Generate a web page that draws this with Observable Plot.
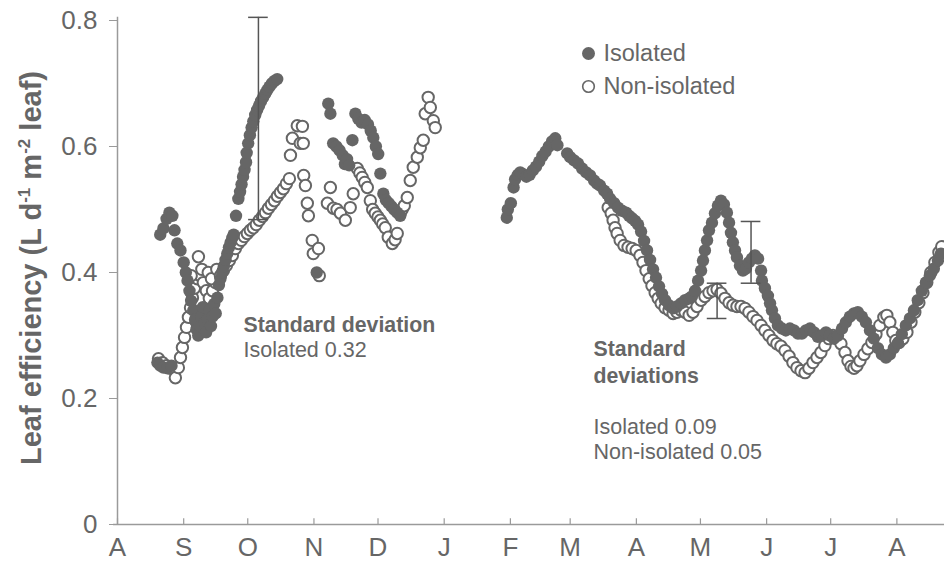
<!DOCTYPE html>
<html><head><meta charset="utf-8">
<script src="https://cdn.jsdelivr.net/npm/d3@7"></script>
<script src="https://cdn.jsdelivr.net/npm/@observablehq/plot@0.6"></script>
<style>body{margin:0;background:#fff}</style>
</head><body><div id="chart"></div>
<script>
// Month ticks (day offsets from 1 August)
const monthLabels = ["A","S","O","N","D","J","F","M","A","M","J","J","A"];
const monthStarts = [0,31,61,92,122,153,184,212,243,273,304,334,365];
const yTicks = [0, 0.2, 0.4, 0.6, 0.8];
const yTickLabels = ["0", "0.2", "0.4", "0.6", "0.8"];
const seriesNames = ["Isolated", "Non-isolated"];

// Isolated: [day, leaf efficiency]
const isolatedPoints = [
  [18.7,0.257],[20,0.252],[21.5,0.249],[23.4,0.248],[25.3,0.252],
  [20,0.46],[21.5,0.47],[23,0.485],[24.3,0.495],[25.7,0.49],[26.7,0.467],[28,0.446],[29.5,0.435],[31,0.416],[32,0.40],[32.8,0.387],[33.7,0.371],
  [34.5,0.355],[35.5,0.34],[36.3,0.325],[37,0.31],[37.8,0.30],[38.6,0.315],[39.3,0.33],[40,0.345],[40.8,0.32],[41.5,0.305],[42.2,0.325],[43,0.34],[43.8,0.315],[44.5,0.33],[45.3,0.35],[46,0.335],[46.8,0.36],[47.5,0.38],
  [48.2,0.39],[49,0.40],[49.8,0.41],[50.6,0.42],[51.4,0.43],[52.2,0.44],[53,0.448],[53.8,0.455],[54.4,0.46],[55.5,0.49],
  [56.6,0.517],[57.4,0.528],[58.1,0.54],[58.8,0.552],[59.5,0.563],[60.2,0.575],[60.5,0.59],[61.2,0.605],[62,0.618],[62.8,0.63],[63.6,0.64],[64.5,0.65],[65.4,0.658],[66.3,0.665],[67.2,0.672],[68.2,0.678],[69.2,0.684],[70.2,0.69],[71.2,0.695],[72.3,0.70],[73.5,0.704],[74.8,0.707],
  [93.3,0.40],[98.7,0.668],[99.7,0.652],[101,0.605],[102.5,0.60],[104,0.594],[105.5,0.586],[106.5,0.572],[107.5,0.58],[108.5,0.57],[110,0.61],[111.4,0.652],[112.8,0.644],[114.3,0.638],[115.8,0.642],[117.3,0.635],[118.6,0.625],[119.8,0.614],[121,0.60],[122.1,0.588],[123.1,0.557],[124.5,0.525],[125.7,0.515],[127,0.51],[128.3,0.505],[129.6,0.50],[131,0.495],[132.4,0.49],
  [182.3,0.487],[182.8,0.50],[184.2,0.51],[185.5,0.535],[186.2,0.548],[187.5,0.555],[188.6,0.559],[190,0.556],[191.5,0.552],[193,0.555],[194.5,0.562],[196,0.568],[197.5,0.576],[199,0.585],[200.5,0.592],[202,0.60],[203.5,0.608],[205,0.613],[206,0.602],
  [210.6,0.589],[212,0.583],[213.8,0.578],[215.7,0.573],[217.6,0.565],[219.5,0.559],[221.3,0.554],[223.2,0.546],[224.6,0.541],[226,0.538],[227.9,0.53],[229.3,0.525],[230.7,0.517],[232.6,0.51],[234.4,0.503],[236.3,0.498],[238.2,0.495],[239.6,0.49],[241,0.486],[242.4,0.482],[243.8,0.476],[245.2,0.465],[246.6,0.45],[248,0.435],[249.4,0.42],[250.8,0.405],[252.2,0.392],[253.6,0.378],[255,0.366],[256.4,0.356],[258.3,0.348],[260.2,0.343],[262,0.346],[263.9,0.351],[265.8,0.356],[267.7,0.359],[269,0.362],
  [270.5,0.371],[271.9,0.387],[273.3,0.403],[274.2,0.419],[275.1,0.435],[276.1,0.451],[277,0.467],[278.4,0.479],[279.8,0.494],[281.2,0.506],[282.6,0.514],[284,0.508],[285.4,0.495],[286.4,0.479],[287.3,0.463],[288.2,0.448],[289.2,0.435],[290.1,0.424],[291.5,0.411],[292.9,0.403],[294.3,0.406],[295.7,0.416],[297.1,0.422],[298.5,0.427],[300,0.422],[301.4,0.403],[301.8,0.387],[303.2,0.375],[304.6,0.363],[305.6,0.351],[306.5,0.34],[307.9,0.327],[309.3,0.316],
  [311.2,0.311],[313,0.308],[314.9,0.311],[316.8,0.308],[318.7,0.303],[320.5,0.303],[322.4,0.308],[324.3,0.311],[326.2,0.305],[328,0.298],[329.9,0.30],[331.8,0.305],[333.6,0.30],[335.5,0.295],[337.4,0.30],[339.3,0.311],[341.1,0.321],[343,0.33],[344.9,0.335],[346.7,0.337],[348.6,0.33],[350.5,0.321],[352.4,0.308],[354.2,0.295],[356.1,0.28],[358,0.27],[359.9,0.265],[361.7,0.27],[363.6,0.28],[365.5,0.288],
  [367.3,0.302],[369.2,0.316],[371.1,0.327],[373,0.34],[374.8,0.356],[376.7,0.371],[378.6,0.384],[380.4,0.395],[382.3,0.406],[384.2,0.419],[385.6,0.43]
];

// Non-isolated: [day, leaf efficiency]
const nonIsolatedPoints = [
  [19.2,0.263],[21,0.257],[22.9,0.252],[24.8,0.248],[27.1,0.233],[28.5,0.249],[29.5,0.265],[30.4,0.281],[31.4,0.297],[32.3,0.313],[33.2,0.329],[34.2,0.344],[35.1,0.36],[36,0.375],[37.4,0.39],[37.9,0.425],[38.8,0.395],[40.2,0.384],[41.6,0.371],[43,0.359],[44.5,0.371],[45.9,0.384],[47.3,0.395],
  [34.5,0.395],[39.5,0.405],[42.5,0.40],[44,0.39],[46.5,0.405],
  [48.2,0.395],[49.6,0.403],[51,0.411],[52.4,0.419],[53.8,0.427],[55.2,0.438],[56.6,0.446],[58,0.451],[59.4,0.457],[60.8,0.462],[62.2,0.467],[63.6,0.471],[65,0.476],[66.4,0.483],[67.9,0.489],[69.3,0.495],[70.7,0.502],[72.1,0.508],[73.5,0.514],[74.9,0.521],[76.3,0.527],[77.7,0.533],[79.1,0.541],[80.5,0.549],
  [81,0.586],[81.9,0.613],[84.2,0.633],[86.6,0.632],[85.6,0.605],[87,0.605],[87.2,0.554],[88,0.538],[88.9,0.51],[89.4,0.49],[91.2,0.451],[91.7,0.43],[94.1,0.438],[94.5,0.395],
  [98.3,0.51],[99.7,0.535],[101.1,0.502],[102.8,0.50],[104.4,0.494],[106.7,0.483],[109,0.503],[110.4,0.525],[112.3,0.565],[113.5,0.558],[114.6,0.551],[115.8,0.543],[117,0.535],[118.4,0.514],[119.5,0.50],[120.7,0.494],[122,0.488],[123.1,0.483],[124.2,0.477],[125.4,0.471],[126.8,0.456],[128.7,0.446],[130,0.452],[131,0.462],[132.4,0.494],[133.3,0.50],[134.3,0.506],[135.7,0.519],[137.1,0.546],[138.5,0.567],[140.4,0.583],[141.8,0.598],[143.2,0.61],[144.1,0.652],[145.5,0.678],[146.5,0.662],[147.9,0.641],[148.8,0.63],
  [229.8,0.503],[231.2,0.494],[232.1,0.483],[233,0.471],[234,0.462],[235.4,0.451],[237.2,0.443],[239.1,0.44],[241,0.438],[242.9,0.435],[244.7,0.427],[246.1,0.416],[247.5,0.403],[249,0.39],[250.3,0.379],[251.8,0.368],[253.2,0.359],[254.6,0.351],[256.4,0.344],[258.3,0.34],[260.2,0.335],[262,0.337],[263.9,0.34],[265.8,0.337],[267.7,0.332],[269.5,0.337],
  [271.4,0.346],[273.3,0.356],[275.1,0.362],[277,0.368],[278.9,0.371],[280.8,0.373],[282.6,0.367],[284.5,0.359],[286.4,0.352],[288.2,0.348],[290.1,0.346],[292,0.346],[293.9,0.343],[295.7,0.337],[297.6,0.33],[299.5,0.324],[301.4,0.316],[303.2,0.308],[305.1,0.30],[307,0.292],[308.8,0.287],[310.7,0.283],[312.6,0.276],[314.5,0.267],[316.3,0.257],[318.2,0.249],[320.1,0.244],[322,0.241],[323.8,0.248],[325.7,0.257],[327.6,0.265],[329.4,0.273],[331.3,0.284],[333.2,0.295],[335.1,0.30],[336.9,0.295],[338.8,0.287],[340.7,0.273],[342.1,0.26],[343.5,0.251],[344.9,0.248],[346.3,0.252],[347.7,0.26],[349.6,0.27],[351.4,0.279],[353.3,0.289],[355.2,0.302],[357,0.316],[358.9,0.329],[360.3,0.332],[361.7,0.321],[363.1,0.305],[364.5,0.292],[366,0.289],[367.8,0.295],[369.7,0.305],[371.6,0.321],[373.4,0.337],[375.3,0.352],[377.2,0.368],[379,0.384],[380.9,0.40],[382.8,0.416],[384.7,0.432],[386,0.441]
];

// Standard-deviation error bars
const errDay = [66, 296.7, 280.8];
const errLow = [0.484, 0.383, 0.327];
const errHigh = [0.805, 0.481, 0.383];

const toRows = pts => pts.map(([day, value]) => ({day, value}));
const iso = toRows(isolatedPoints);
const non = toRows(nonIsolatedPoints);
const errors = errDay.map((d, i) => ({day: d, low: errLow[i], high: errHigh[i]}));

const gray = "#666";
const axisGray = "#9a9a9a";
const capHalf = 4.6;
const font = "'Liberation Sans', Arial, sans-serif";

const chart = Plot.plot({
  width: 944, height: 580,
  marginLeft: 117, marginRight: 0, marginTop: 20, marginBottom: 56,
  style: {fontFamily: font, fontSize: "23px", color: gray, background: "white", overflow: "visible"},
  x: {domain: [0, 387.3], axis: null, label: null},
  y: {domain: [0, 0.8], axis: null, label: null},
  marks: [
    Plot.ruleY([0], {x1: -1.9, x2: 387.3, stroke: axisGray, strokeWidth: 1.5}),
    Plot.ruleX([0], {y1: 0, y2: 0.805, stroke: axisGray, strokeWidth: 1.5}),
    Plot.ruleX(monthStarts, {y1: 0, y2: 0.009, stroke: axisGray, strokeWidth: 1.2}),
    Plot.axisY(yTicks, {label: null, tickFormat: d => yTickLabels[yTicks.indexOf(d)], tickSize: 8, tickPadding: 12, stroke: axisGray, fontSize: 26, fill: gray}),
    Plot.axisX(monthStarts, {label: null, tickFormat: d => monthLabels[monthStarts.indexOf(d)], tickSize: 0, tickPadding: 13, fontSize: 26, fill: gray}),
    Plot.dot(non, {x: "day", y: "value", r: 5.7, fill: "white", stroke: gray, strokeWidth: 2}),
    Plot.dot(iso, {x: "day", y: "value", r: 6.2, fill: gray}),
    Plot.ruleX(errors, {x: "day", y1: "low", y2: "high", stroke: "#555", strokeWidth: 1.5}),
    Plot.ruleY(errors, {y: "low", x1: d => d.day - capHalf, x2: d => d.day + capHalf, stroke: "#555", strokeWidth: 1.5}),
    Plot.ruleY(errors, {y: "high", x1: d => d.day - capHalf, x2: d => d.day + capHalf, stroke: "#555", strokeWidth: 1.5}),
    // legend
    Plot.dot([seriesNames[0]], {frameAnchor: "top-left", dx: 471, dy: 33, r: 6.5, fill: gray}),
    Plot.dot([seriesNames[1]], {frameAnchor: "top-left", dx: 471, dy: 66, r: 5.8, fill: "white", stroke: gray, strokeWidth: 1.6}),
    Plot.text([seriesNames[0]], {frameAnchor: "top-left", dx: 486, dy: 33, text: d => d, textAnchor: "start", lineAnchor: "middle", fontSize: 23.5, fill: gray}),
    Plot.text([seriesNames[1]], {frameAnchor: "top-left", dx: 486, dy: 66, text: d => d, textAnchor: "start", lineAnchor: "middle", fontSize: 23.5, fill: gray}),
    // annotations
    Plot.text(["Standard deviation"], {frameAnchor: "top-left", dx: 126, dy: 305, text: d => d, textAnchor: "start", lineAnchor: "middle", fontSize: 21.3, fontWeight: "bold", fill: gray}),
    Plot.text(["Isolated 0.32"], {frameAnchor: "top-left", dx: 126, dy: 330, text: d => d, textAnchor: "start", lineAnchor: "middle", fontSize: 21.5, fill: gray}),
    Plot.text(["Standard"], {frameAnchor: "top-left", dx: 476, dy: 329, text: d => d, textAnchor: "start", lineAnchor: "middle", fontSize: 21.3, fontWeight: "bold", fill: gray}),
    Plot.text(["deviations"], {frameAnchor: "top-left", dx: 476, dy: 356, text: d => d, textAnchor: "start", lineAnchor: "middle", fontSize: 21.3, fontWeight: "bold", fill: gray}),
    Plot.text(["Isolated 0.09"], {frameAnchor: "top-left", dx: 476, dy: 407, text: d => d, textAnchor: "start", lineAnchor: "middle", fontSize: 21.5, fill: gray}),
    Plot.text(["Non-isolated 0.05"], {frameAnchor: "top-left", dx: 476, dy: 432, text: d => d, textAnchor: "start", lineAnchor: "middle", fontSize: 21.5, fill: gray})
  ]
});

// Y-axis title with superscripts
const title = d3.select(chart).append("text")
  .attr("transform", "translate(41,268) rotate(-90)")
  .attr("text-anchor", "middle")
  .attr("font-family", font)
  .attr("font-weight", "bold")
  .attr("font-size", 29)
  .attr("fill", gray);
title.append("tspan").text("Leaf efficiency (L d");
title.append("tspan").attr("dy", -11).attr("font-size", 17).text("-1");
title.append("tspan").attr("dy", 11).text(" m");
title.append("tspan").attr("dy", -11).attr("font-size", 17).text("-2");
title.append("tspan").attr("dy", 11).text(" leaf)");

document.getElementById("chart").appendChild(chart);
</script>
</body></html>
